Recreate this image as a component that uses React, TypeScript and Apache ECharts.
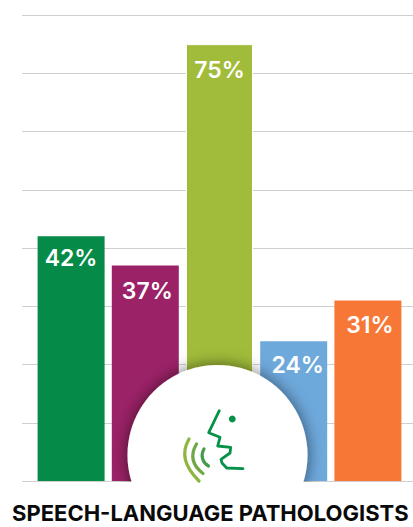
import React, { useEffect, useRef } from "react";
import * as echarts from "echarts";

const categories = ["A", "B", "C", "D", "E"];
const values = [42, 37, 75, 24, 31];
const colors = ["#058a47", "#9b2267", "#a1bc3a", "#6ea9dc", "#f77737"];
const yTicks = { min: 0, max: 80, interval: 10 };
const title = "SPEECH-LANGUAGE PATHOLOGISTS";
const labelNudges = [[0, -2], [2, 2], [0, 2], [4, 0], [2, 1]];

export default function App() {
  const ref = useRef<HTMLDivElement>(null);
  useEffect(() => {
    document.body.style.margin = "0";
    const chart = echarts.init(ref.current!, null, { renderer: "svg" });
    const arc = (x1: number, y1: number, cx1: number, cy1: number, cx2: number, cy2: number, x2: number, y2: number, color: string) => ({
      type: "bezierCurve",
      z: 20,
      shape: { x1, y1, cpx1: cx1, cpy1: cy1, cpx2: cx2, cpy2: cy2, x2, y2 },
      style: { stroke: color, lineWidth: 3.2, fill: "none", lineCap: "round" },
    });
    chart.setOption({
      animation: false,
      backgroundColor: "#fff",
      grid: [
        { left: 22, right: 0, top: 15, height: 466 },
        { left: 34, width: 371, top: 15, height: 466 },
      ],
      xAxis: [
        { type: "category", gridIndex: 0, data: categories, show: false },
        { type: "category", gridIndex: 1, data: categories, show: false },
      ],
      yAxis: [
        {
          type: "value", gridIndex: 0, ...yTicks,
          axisLine: { show: false }, axisTick: { show: false }, axisLabel: { show: false },
          splitLine: { show: true, lineStyle: { color: "#cfcfcf", width: 1 } },
        },
        { type: "value", gridIndex: 1, ...yTicks, show: false, splitLine: { show: false } },
      ],
      series: [
        {
          type: "bar",
          xAxisIndex: 1,
          yAxisIndex: 1,
          barWidth: 67,
          data: values.map((v, i) => ({
            value: v,
            label: { offset: labelNudges[i] },
            itemStyle: i === 2
              ? { color: colors[i], borderColor: "#fff", borderWidth: 1 }
              : { color: colors[i] },
          })),
          label: {
            show: true,
            position: "insideTop",
            distance: 12,
            formatter: "{c}%",
            color: "#fff",
            fontFamily: "Inter",
            fontWeight: 600,
            fontSize: 23,
          },
        },
      ],
      graphic: [
        {
          type: "circle", z: 10,
          shape: { cx: 217.5, cy: 455, r: 90 },
          style: { fill: "#fff", shadowBlur: 16, shadowColor: "rgba(0,0,0,0.55)" },
        },
        { type: "rect", z: 11, shape: { x: 0, y: 482, width: 413, height: 45 }, style: { fill: "#fff" } },
        {
          type: "polyline", z: 20,
          shape: { points: [[219.3, 410.7], [208.7, 432.7], [220, 437.3], [217.7, 446], [230.7, 447.3], [230, 453], [221, 459.3], [222, 463], [226.7, 468], [243, 468.7]] },
          style: { stroke: "#059148", lineWidth: 2.8, fill: "none", lineCap: "round", lineJoin: "round" },
        },
        { type: "circle", z: 20, shape: { cx: 232.3, cy: 419, r: 3.4 }, style: { fill: "#059148" } },
        arc(189, 439, 181, 453, 184, 466, 199, 481, "#8db53f"),
        arc(196.5, 444, 190, 455, 192, 465, 203, 473.5, "#6ea945"),
        arc(204, 449, 200, 456, 203, 463, 208.5, 466, "#459c4c"),
        {
          type: "text", z: 20, x: 12, y: 513,
          style: { text: title, fill: "#0a0a0a", font: "700 22px Inter", verticalAlign: "middle", lineHeight: 18 },
        },
      ],
    });
    return () => chart.dispose();
  }, []);
  return <div ref={ref} style={{ width: 413, height: 527, position: "absolute", left: 0, top: 0, overflow: "hidden" }} />;
}
